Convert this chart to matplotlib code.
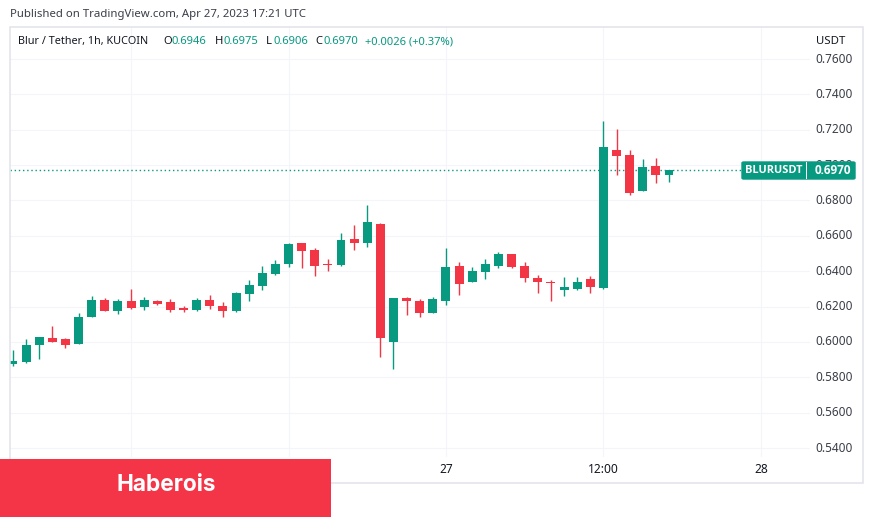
import matplotlib
matplotlib.use("Agg")
import matplotlib.pyplot as plt
from matplotlib.patches import Rectangle, FancyBboxPatch
from matplotlib.transforms import ScaledTranslation

# hourly candles, Blur / Tether
opens = [.5875,.5886,.5984,.6022,.6017,.5990,.6143,.6237,.6177,.6231,.6199,.6231,.6226,.6194,.6181,.6237,.6203,
         .6177,.6273,.6318,.6384,.6441,.6559,.6520,.6441,.6435,.6582,.6559,.6667,.6000,.6248,.6231,.6164,.6231,
         .6429,.6339,.6395,.6429,.6497,.6429,.6362,.6339,.6294,.6299,.6356,.6305,.7085,.7057,.6854,.6995,.6946]
highs = [.5954,.6017,.6028,.6090,.6022,.6164,.6260,.6248,.6243,.6299,.6254,.6237,.6243,.6203,.6248,.6265,.6224,
         .6282,.6350,.6429,.6463,.6559,.6559,.6530,.6469,.6616,.6661,.6774,.6673,.6248,.6254,.6243,.6254,.6531,
         .6452,.6424,.6469,.6509,.6497,.6452,.6378,.6350,.6367,.6367,.6373,.7250,.7204,.7085,.7035,.7040,.6975]
lows = [.5864,.5881,.5905,.6001,.5967,.5990,.6143,.6177,.6160,.6188,.6182,.6211,.6171,.6171,.6177,.6188,.6143,
        .6171,.6231,.6295,.6378,.6424,.6418,.6373,.6401,.6429,.6520,.6537,.5915,.5847,.6152,.6141,.6164,.6209,
        .6265,.6339,.6356,.6418,.6418,.6339,.6277,.6231,.6260,.6294,.6277,.6299,.6944,.6831,.6854,.6899,.6906]
closes = [.5892,.5983,.6028,.6001,.5984,.6141,.6237,.6177,.6231,.6194,.6237,.6216,.6182,.6182,.6237,.6205,.6177,
          .6277,.6322,.6390,.6441,.6554,.6516,.6429,.6433,.6576,.6559,.6678,.6022,.6248,.6231,.6164,.6243,.6424,
          .6328,.6401,.6441,.6497,.6424,.6362,.6339,.6335,.6311,.6339,.6311,.7102,.7052,.6842,.6989,.6944,.6970]
price_ticks = [.54,.56,.58,.60,.62,.64,.66,.68,.70,.72,.74,.76]
time_ticks = [9, 21, 33, 45, 57]
time_labels = ["26", "12:00", "27", "12:00", "28"]
last_price = 0.6970

GREEN, RED = "#089981", "#F23645"
GRID, FRAME, INK = "#F3F5FA", "#E0E3EB", "#131722"
W, H = 873, 518
FONT = "Noto Sans"
plt.rcParams["font.family"] = [FONT, "DejaVu Sans"]

fig = plt.figure(figsize=(W / 100, H / 100), dpi=100, facecolor="white")

def fx(x): return x / W
def fy(y): return 1 - y / H

L, R, T, B = 10, 810, 27, 457
ax = fig.add_axes([fx(L), fy(B), (R - L) / W, (B - T) / H])
for s in ax.spines.values():
    s.set_visible(False)
ax.set_xlim((L - 13) / 13.12, (R - 13) / 13.12)
ax.set_ylim(.54 - (B - 448) / 1768, .54 + (448 - T) / 1768)
ax.set_axisbelow(True)
ax.grid(True, color=GRID, lw=0.8)

xs = list(range(len(opens)))
for i, o, h, l, c in zip(xs, opens, highs, lows, closes):
    col = GREEN if c >= o else RED
    ax.vlines(i, l, h, color=col, lw=1.0, zorder=3)
    ax.bar(i, max(abs(c - o), 0.0006), bottom=min(o, c), width=0.68, color=col, lw=0, zorder=4)

ax.axhline(last_price, color=GREEN, lw=1, ls=(0, (1, 2)), zorder=2)

ax.yaxis.tick_right()
ax.set_yticks(price_ticks)
ax.set_yticklabels([f"{v:.4f}" for v in price_ticks], fontsize=8.5, color="#3a3e48")
ax.tick_params(axis="y", length=0, pad=4)
lift = ScaledTranslation(0, 1.5 / 100, fig.dpi_scale_trans)
for lab in ax.get_yticklabels():
    lab.set_transform(lab.get_transform() + lift)
ax.set_xticks(time_ticks)
ax.set_xticklabels(time_labels, fontsize=8.6, color=INK)
ax.tick_params(axis="x", length=0, pad=4)
for lab in ax.get_xticklabels():
    if lab.get_text() in ("27", "28"):
        lab.set_fontweight("bold")

# outer frame
fig.add_artist(Rectangle((fx(10), fy(483)), 853 / W, 456 / H, transform=fig.transFigure,
                         fill=False, edgecolor=FRAME, lw=1.1, zorder=1))

def t(x, y, s, **kw):
    kw.setdefault("fontsize", 8.1)
    kw.setdefault("color", INK)
    kw.setdefault("va", "center")
    kw.setdefault("zorder", 7)
    fig.text(fx(x), fy(y), s, **kw)

t(10, 15, "Published on TradingView.com, Apr 27, 2023 17:21 UTC", color="#3a3e48", fontsize=8.2)
t(18, 41.5, "Blur / Tether, 1h, KUCOIN", fontsize=7.8)
for x_l, letter, x_v, val in [(163, "O", 172, "0.6946"), (215, "H", 224, "0.6975"),
                              (266, "L", 273, "0.6906"), (315, "C", 324, "0.6970")]:
    t(x_l, 41.5, letter)
    t(x_v, 41.5, val, color=GREEN)
t(365, 41.5, "+0.0026 (+0.37%)", color=GREEN, fontsize=8.05)
t(831, 41.5, "USDT", ha="center", fontsize=8.2)

# last price tag
tag_top, tag_bot = 162, 179
fig.add_artist(FancyBboxPatch((fx(742), fy(tag_bot)), 113 / W, (tag_bot - tag_top) / H,
                              boxstyle="round,pad=0,rounding_size=0.002", transform=fig.transFigure,
                              facecolor=GREEN, edgecolor=GREEN, lw=1, zorder=5))
fig.add_artist(Rectangle((fx(806), fy(tag_bot)), 1 / W, (tag_bot - tag_top) / H, transform=fig.transFigure,
                         facecolor="white", lw=0, zorder=6))
t(773.5, 170.5, "BLURUSDT", color="white", ha="center", fontsize=7.9, fontweight="bold", family="Open Sans")
t(832.5, 170.5, "0.6970", color="white", ha="center", fontsize=8.5, fontweight="bold", family="Open Sans")

# banner
fig.add_artist(Rectangle((0, fy(517)), 331 / W, 58 / H, transform=fig.transFigure,
                         facecolor="#F43548", lw=0, zorder=5))
t(166, 485, "Haberois", color="white", ha="center", fontsize=16.3, fontweight="bold", family="Inter")

fig.savefig("out.png", dpi=100, facecolor="white")
